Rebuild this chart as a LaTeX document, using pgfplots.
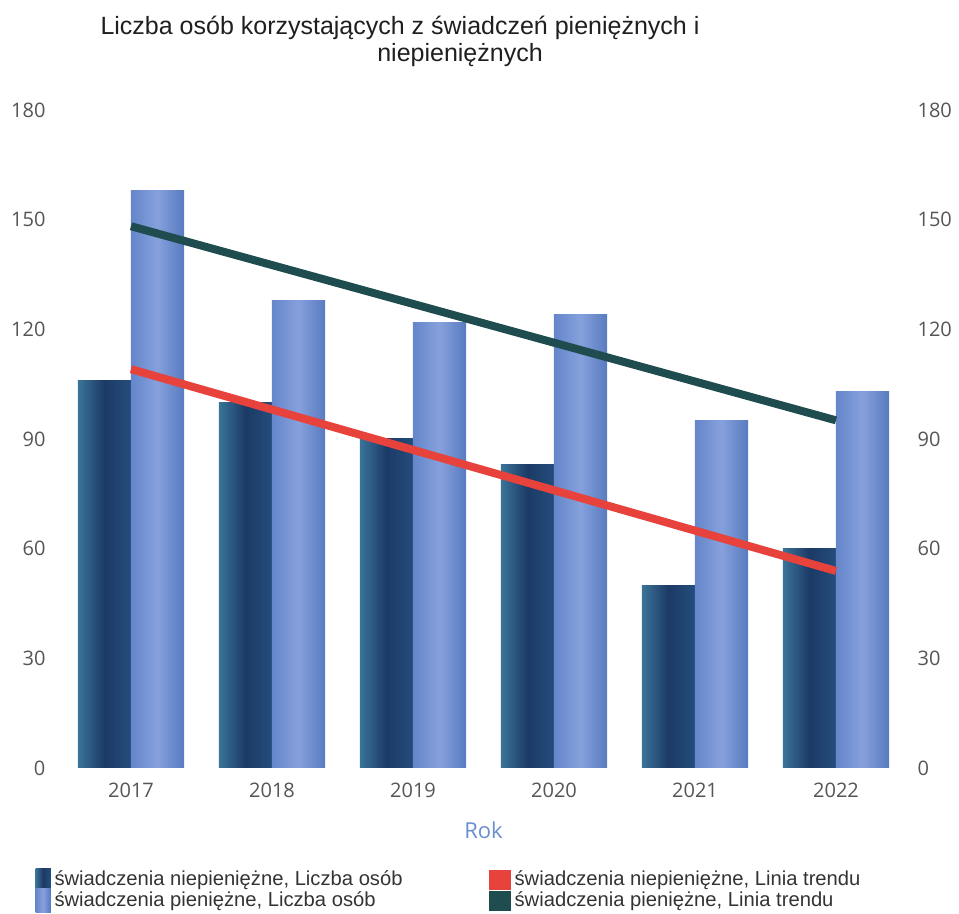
\documentclass[border=0pt]{standalone}
\usepackage{fontspec}
\setmainfont{Liberation Sans}
\newfontfamily\tickfont{Open Sans}
\usepackage{pgfplots}
\pgfplotsset{compat=1.18}

\definecolor{darkL}{HTML}{3A7399}
\definecolor{darkM}{HTML}{1C3A66}
\definecolor{darkR}{HTML}{244D7C}
\definecolor{lightL}{HTML}{6586CB}
\definecolor{lightM}{HTML}{86A0DC}
\definecolor{lightR}{HTML}{587BC0}
\definecolor{trendred}{HTML}{E8423C}
\definecolor{trendgreen}{HTML}{1F4D4F}
\definecolor{tickgray}{HTML}{555555}
\definecolor{rokblue}{HTML}{6A8ED2}
\definecolor{legtext}{HTML}{333333}

\pgfplotsset{
    darkbar/.style={ybar, bar width=0.376, bar shift=-0.188, draw=none,
        left color=darkL, right color=darkR, middle color=darkM,
        legend image code/.code={\fill[darkM] (0pt,-6pt) rectangle (7.5pt,6pt);}},
    lightbar/.style={ybar, bar width=0.376, bar shift=0.188, draw=none,
        left color=lightL, right color=lightR, middle color=lightM,
        legend image code/.code={\fill[lightR] (0pt,-6pt) rectangle (7.5pt,6pt);}},
}

\begin{document}
\begin{tikzpicture}
\useasboundingbox (-30.25pt,-73pt) rectangle (449.25pt,384pt);

\begin{axis}[
    at={(0pt,0pt)}, anchor=south west,
    width=423pt, height=329pt, scale only axis,
    xmin=-0.5, xmax=5.5, ymin=0, ymax=180,
    xtick={0,1,2,3,4,5},
    xticklabels={2017,2018,2019,2020,2021,2022},
    ytick={0,30,60,90,120,150,180},
    axis line style={draw=none},
    major tick length=0pt,
    /pgf/number format/assume math mode=true,
    tick label style={font=\tickfont\fontsize{10}{12}\selectfont, text=tickgray},
    yticklabel style={xshift=-4pt},
    xticklabel style={yshift=-4pt},
    xlabel={Rok},
    xlabel style={at={(axis description cs:0.5,0)}, anchor=center, yshift=-31pt,
        font=\tickfont\fontsize{11}{13}\selectfont, text=rokblue},
    legend columns=2, transpose legend, legend cell align=left,
    legend style={at={(axis description cs:-0.03,-0.15)}, anchor=north west,
        draw=none, fill=none, font=\fontsize{10.1}{12}\selectfont, text=legtext,
        row sep=-2.5pt, inner sep=0pt,
        /tikz/every even column/.append style={column sep=41pt}},
]
% swiadczenia niepieniezne, liczba osob (one bar per year, for per-bar shading)
\addplot[darkbar] coordinates {(0,106)};
\addlegendentry{świadczenia niepieniężne, Liczba osób}
\addplot[darkbar, forget plot] coordinates {(1,100)};
\addplot[darkbar, forget plot] coordinates {(2,90)};
\addplot[darkbar, forget plot] coordinates {(3,83)};
\addplot[darkbar, forget plot] coordinates {(4,50)};
\addplot[darkbar, forget plot] coordinates {(5,60)};

% swiadczenia pieniezne, liczba osob
\addplot[lightbar] coordinates {(0,158)};
\addlegendentry{świadczenia pieniężne, Liczba osób}
\addplot[lightbar, forget plot] coordinates {(1,128)};
\addplot[lightbar, forget plot] coordinates {(2,122)};
\addplot[lightbar, forget plot] coordinates {(3,124)};
\addplot[lightbar, forget plot] coordinates {(4,95)};
\addplot[lightbar, forget plot] coordinates {(5,103)};

% linie trendu
\addplot[trendred, line width=4pt, mark=none,
    legend image code/.code={\fill[trendred] (0pt,-3pt) rectangle (7pt,3pt);}]
    coordinates {(0,109.1) (5,53.9)};
\addlegendentry{świadczenia niepieniężne, Linia trendu}

\addplot[trendgreen, line width=4pt, mark=none,
    legend image code/.code={\fill[trendgreen] (0pt,-3pt) rectangle (7pt,3pt);}]
    coordinates {(0,148.2) (5,95.1)};
\addlegendentry{świadczenia pieniężne, Linia trendu}
\end{axis}

\begin{axis}[
    at={(0pt,0pt)}, anchor=south west,
    width=423pt, height=329pt, scale only axis,
    xmin=-0.5, xmax=5.5, ymin=0, ymax=180,
    axis x line=none, axis y line*=right,
    ytick={0,30,60,90,120,150,180},
    axis line style={draw=none},
    major tick length=0pt,
    /pgf/number format/assume math mode=true,
    tick label style={font=\tickfont\fontsize{10}{12}\selectfont, text=tickgray},
    yticklabel style={xshift=2pt},
]
\end{axis}

\node[text=black!88, font=\fontsize{12.5}{14}\selectfont] at (169.75pt,370pt)
    {Liczba osób korzystających z świadczeń pieniężnych i};
\node[text=black!88, font=\fontsize{12.5}{14}\selectfont] at (199.75pt,356.5pt)
    {niepieniężnych};
\end{tikzpicture}
\end{document}
